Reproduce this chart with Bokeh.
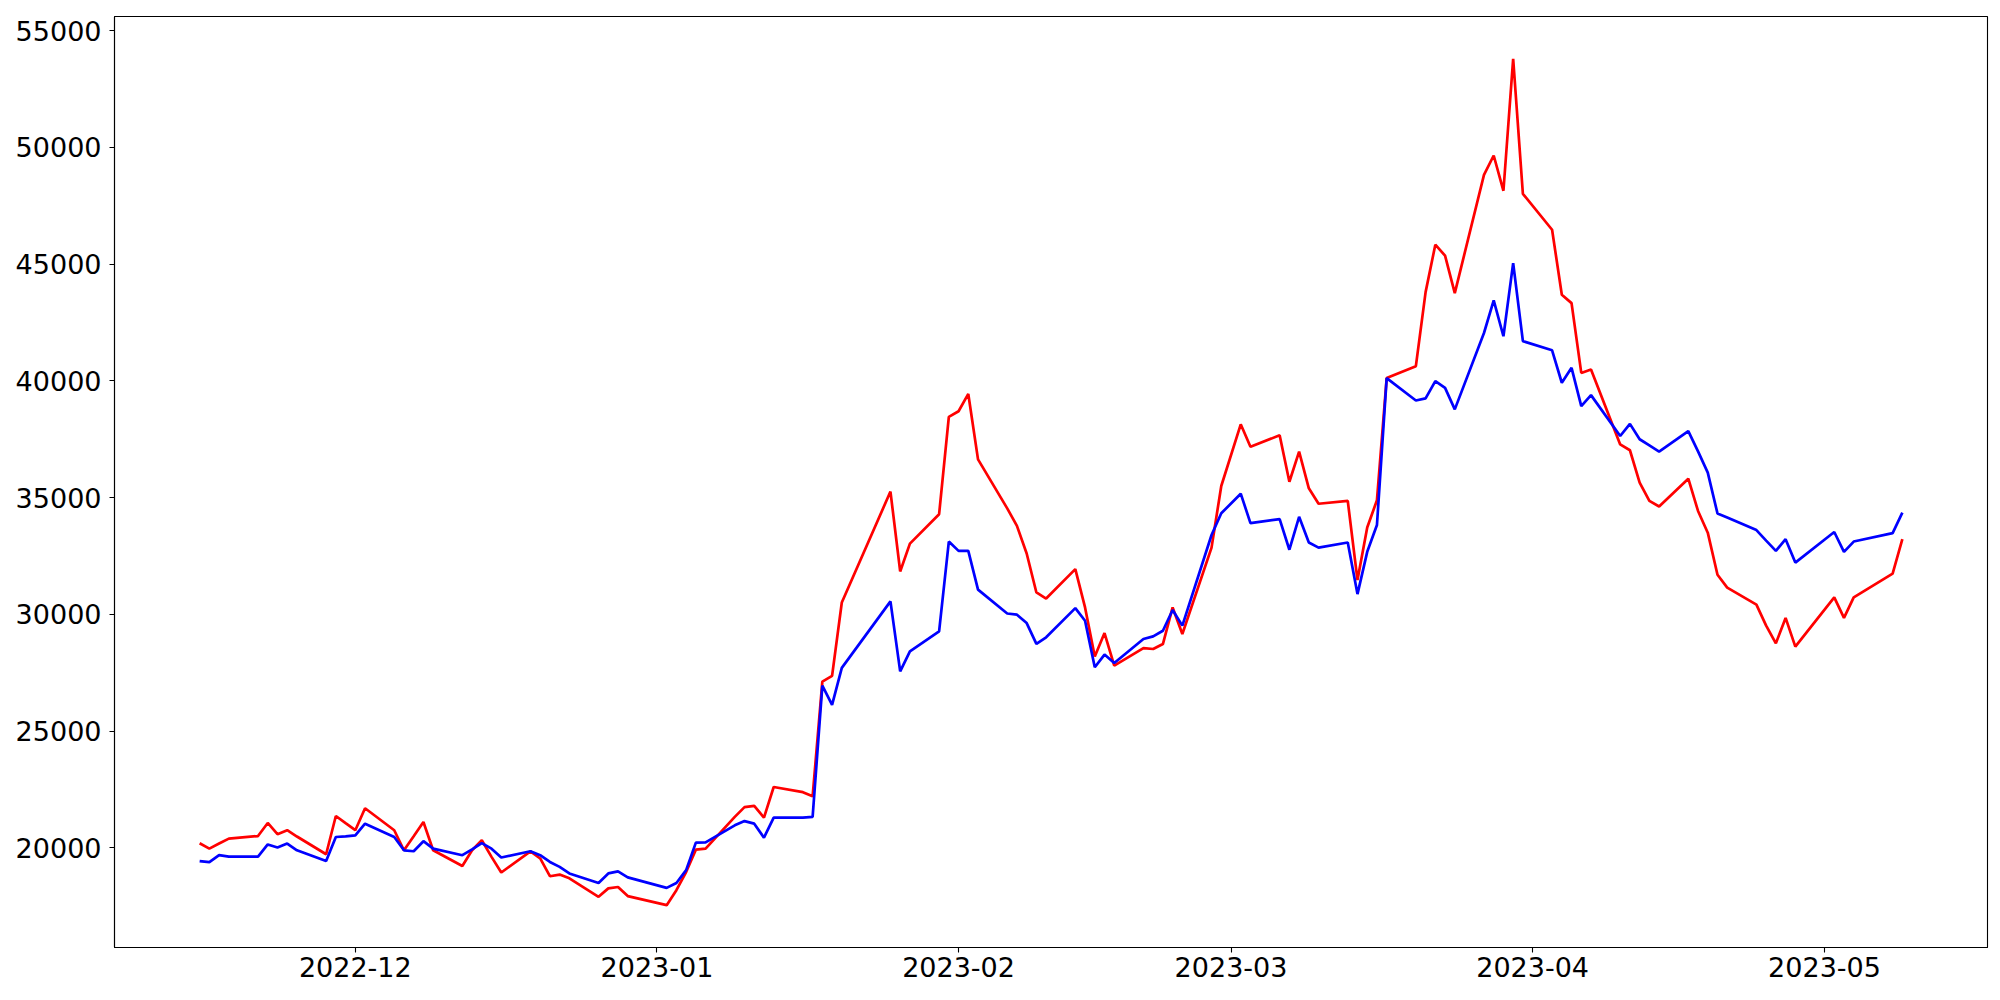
import pandas as pd
from bokeh.plotting import figure
from bokeh.models import Range1d, FixedTicker, DatetimeTickFormatter, NumeralTickFormatter
from bokeh.embed import file_html
from bokeh.resources import INLINE

dates = [
    "2022-11-15", "2022-11-16", "2022-11-17", "2022-11-18", "2022-11-21", "2022-11-22",
    "2022-11-23", "2022-11-24", "2022-11-25", "2022-11-28", "2022-11-29", "2022-11-30",
    "2022-12-01", "2022-12-02", "2022-12-05", "2022-12-06", "2022-12-07", "2022-12-08",
    "2022-12-09", "2022-12-12", "2022-12-13", "2022-12-14", "2022-12-15", "2022-12-16",
    "2022-12-19", "2022-12-20", "2022-12-21", "2022-12-22", "2022-12-23", "2022-12-26",
    "2022-12-27", "2022-12-28", "2022-12-29",
    "2023-01-02", "2023-01-03", "2023-01-04", "2023-01-05", "2023-01-06", "2023-01-09",
    "2023-01-10", "2023-01-11", "2023-01-12", "2023-01-13", "2023-01-16", "2023-01-17",
    "2023-01-18", "2023-01-19", "2023-01-20", "2023-01-25", "2023-01-26", "2023-01-27",
    "2023-01-30", "2023-01-31",
    "2023-02-01", "2023-02-02", "2023-02-03", "2023-02-06", "2023-02-07", "2023-02-08",
    "2023-02-09", "2023-02-10", "2023-02-13", "2023-02-14", "2023-02-15", "2023-02-16",
    "2023-02-17", "2023-02-20", "2023-02-21", "2023-02-22", "2023-02-23", "2023-02-24",
    "2023-02-27", "2023-02-28",
    "2023-03-02", "2023-03-03", "2023-03-06", "2023-03-07", "2023-03-08", "2023-03-09",
    "2023-03-10", "2023-03-13", "2023-03-14", "2023-03-15", "2023-03-16", "2023-03-17",
    "2023-03-20", "2023-03-21", "2023-03-22", "2023-03-23", "2023-03-24", "2023-03-27",
    "2023-03-28", "2023-03-29", "2023-03-30", "2023-03-31",
    "2023-04-03", "2023-04-04", "2023-04-05", "2023-04-06", "2023-04-07", "2023-04-10",
    "2023-04-11", "2023-04-12", "2023-04-13", "2023-04-14", "2023-04-17", "2023-04-18",
    "2023-04-19", "2023-04-20", "2023-04-21", "2023-04-24", "2023-04-25", "2023-04-26",
    "2023-04-27", "2023-04-28",
    "2023-05-02", "2023-05-03", "2023-05-04", "2023-05-08", "2023-05-09",
]

red_values = [
    20200, 19970, 20190, 20400, 20510, 21070, 20590, 20760, 20490, 19730, 21370, 21060,
    20760, 21700, 20760, 19900, 20500, 21110, 19900, 19230, 19900, 20330, 19620, 18950,
    19850, 19550, 18790, 18860, 18700, 17910, 18270, 18330, 17940,
    17550, 18190, 18970, 19930, 19970, 21330, 21750, 21800, 21300, 22610, 22390, 22210,
    27120, 27370, 30510, 35260, 31840, 33030, 34290, 38460,
    38700, 39440, 36640, 34540, 33790, 32610, 30940, 30680, 31940, 30300, 28200, 29200,
    27810, 28560, 28520, 28730, 30300, 29160, 32860, 35500,
    38140, 37180, 37670, 35680, 36970, 35400, 34740, 34860, 31470, 33720, 34890, 40120,
    40630, 43800, 45830, 45360, 43760, 48820, 49650, 48140, 53790, 48010,
    46470, 43690, 43330, 40340, 40490, 37280, 37030, 35640, 34860, 34620, 35810, 34430,
    33500, 31700, 31150, 30420, 29520, 28760, 29850, 28620,
    30730, 29850, 30730, 31750, 33220,
]

blue_values = [
    19440, 19390, 19690, 19630, 19630, 20150, 20020, 20190, 19900, 19440, 20470, 20500,
    20540, 21040, 20470, 19900, 19860, 20290, 19970, 19690, 19940, 20210, 19970, 19590,
    19860, 19690, 19400, 19190, 18910, 18500, 18910, 19000, 18740,
    18290, 18500, 19050, 20230, 20240, 20970, 21150, 21040, 20440, 21300, 21300, 21330,
    26950, 26130, 27710, 30560, 27560, 28420, 29270, 33120,
    32720, 32720, 31060, 30040, 29990, 29630, 28740, 29020, 30270, 29730, 27740, 28280,
    27920, 28950, 29060, 29300, 30190, 29520, 33400, 34330,
    35170, 33910, 34080, 32770, 34180, 33080, 32860, 33080, 30870, 32680, 33830, 40120,
    39160, 39250, 39990, 39700, 38780, 42050, 43450, 41910, 45040, 41700,
    41310, 39920, 40560, 38920, 39390, 37640, 38160, 37500, 37240, 36970, 37850, 36980,
    36070, 34320, 34150, 33610, 33160, 32720, 33220, 32220,
    33530, 32680, 33120, 33480, 34360,
]

month_ticks = ["2022-12-01", "2023-01-01", "2023-02-01", "2023-03-01", "2023-04-01", "2023-05-01"]
y_ticks = [20000, 25000, 30000, 35000, 40000, 45000, 50000, 55000]

x = pd.to_datetime(dates)
x_ms = [t.value / 1e6 for t in x]

xmin, xmax = min(x_ms), max(x_ms)
xpad = 0.05 * (xmax - xmin)
all_y = red_values + blue_values
ymin, ymax = min(all_y), max(all_y)
ypad = 0.05 * (ymax - ymin)

p = figure(
    width=1992, height=992,
    x_axis_type="datetime",
    output_backend="svg",
    toolbar_location=None,
    x_range=Range1d(xmin - xpad, xmax + xpad),
    y_range=Range1d(ymin - ypad, ymax + ypad),
    min_border_left=114, min_border_right=5, min_border_top=16, min_border_bottom=45,
)

p.line(x_ms, red_values, line_color="#ff0000", line_width=2.7)
p.line(x_ms, blue_values, line_color="#0000ff", line_width=2.7)

p.xgrid.visible = False
p.ygrid.visible = False
p.outline_line_color = "black"
p.outline_line_width = 1.1
p.outline_line_alpha = 1.0
p.background_fill_color = "white"
p.border_fill_color = "white"

p.xaxis.ticker = FixedTicker(ticks=[pd.Timestamp(t).value / 1e6 for t in month_ticks])
fmt = "%Y-%m"
p.xaxis.formatter = DatetimeTickFormatter(
    milliseconds=fmt, seconds=fmt, minsec=fmt, minutes=fmt, hourmin=fmt, hours=fmt,
    days=fmt, months=fmt, years=fmt,
)
p.yaxis.ticker = FixedTicker(ticks=y_ticks)
p.yaxis.formatter = NumeralTickFormatter(format="0")

for ax in (p.xaxis, p.yaxis):
    ax.major_label_text_font = "DejaVu Sans"
    ax.major_label_text_font_size = "27px"
    ax.major_label_text_color = "black"
    ax.major_tick_out = 5
    ax.major_tick_in = 0
    ax.minor_tick_out = 0
    ax.minor_tick_in = 0
    ax.major_tick_line_color = "black"
    ax.major_tick_line_width = 1.1
    ax.axis_line_color = "black"
    ax.axis_line_width = 1.1

p.yaxis.major_label_standoff = 8
p.xaxis.major_label_standoff = 4

open("out.html", "w").write(file_html(p, INLINE))
